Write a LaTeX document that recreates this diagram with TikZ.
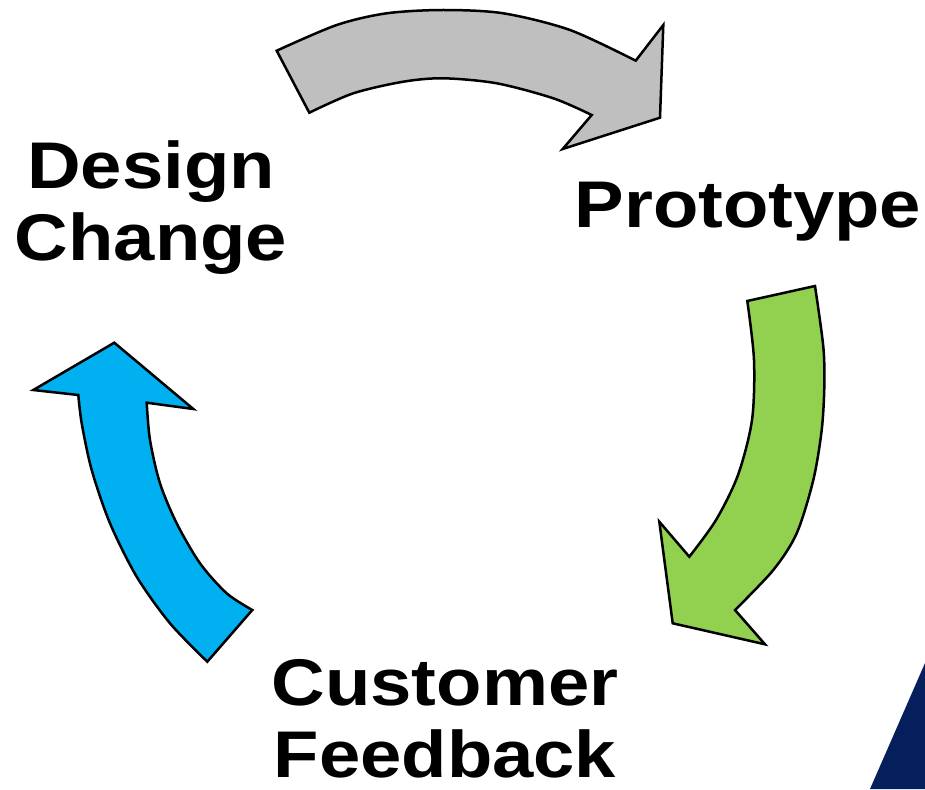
\documentclass[tikz,border=0pt]{standalone}
\usepackage{fontspec}
\setmainfont{Liberation Sans}[FakeStretch=1.125]
\usepackage{tikz}
\usetikzlibrary{positioning}

\definecolor{arrowgray}{RGB}{191,191,191}
\definecolor{arrowgreen}{RGB}{146,208,80}
\definecolor{arrowblue}{RGB}{0,176,240}
\definecolor{navy}{RGB}{5,31,92}

\begin{document}
\begin{tikzpicture}[x=1pt,y=-1pt]
  \tikzstyle{band}=[draw=black,line width=2.5pt,line join=miter]
  \tikzstyle{stage}=[font=\bfseries\fontsize{66}{72}\selectfont,align=center,inner sep=0pt,anchor=base]

  \useasboundingbox (0,0) rectangle (925,789);

  % corner of the dark backdrop
  \fill[navy] (925,663) -- (870,789) -- (925,789) -- cycle;

  % grey arrow: design change -> prototype
  \filldraw[band,fill=arrowgray] (276.7,50.7)
    -- plot[smooth] coordinates {(309.3,112.7) (353.3,93.3) (403.3,81.7) (443.3,78.3) (496.7,83.3) (553.3,98.3) (591.7,115)}
    -- (562.7,149) -- (660,117.7) -- (663.3,25) -- (635.7,60.7)
    -- plot[smooth] coordinates {(635.7,60.7) (570,30) (503.3,13.3) (443.3,10) (386.7,13.3) (336.7,25) (276.7,50.7)}
    -- cycle;

  % green arrow: prototype -> customer feedback
  \filldraw[band,fill=arrowgreen] (815,286)
    -- (747.3,301)
    -- plot[smooth] coordinates {(747.3,301) (754,360) (752,420) (738,475) (716,520) (689.3,556.7)}
    -- (659.3,521.7) -- (672.7,623.3) -- (765,644.3) -- (735,610)
    -- plot[smooth] coordinates {(735,610) (773.3,570) (796.7,533.3) (813.3,480) (821.7,430) (824.3,386.7) (823.3,346.7) (815,286)}
    -- cycle;

  % blue arrow: customer feedback -> design change
  \filldraw[band,fill=arrowblue] (252.3,610)
    -- (207.3,661.7)
    -- plot[smooth] coordinates {(207.3,661.7) (170,623.3) (136.7,576.7) (110,523.3) (91.7,470) (81.7,423.3) (78.3,395)}
    -- (33.3,390) -- (114.3,342.7) -- (193.3,409) -- (146.7,402.7)
    -- plot[smooth] coordinates {(146.7,402.7) (150,440) (160,483.3) (176.7,523.3) (200,563.3) (226.7,593.3) (252.3,610)}
    -- cycle;

  % stage names (base = last line)
  \node[stage] (design) at (151,260) {Design\\Change};
  \node[stage] (proto) at (748,227) {Prototype};
  \node[stage] (feedback) at (445,777) {Customer\\Feedback};
\end{tikzpicture}
\end{document}
